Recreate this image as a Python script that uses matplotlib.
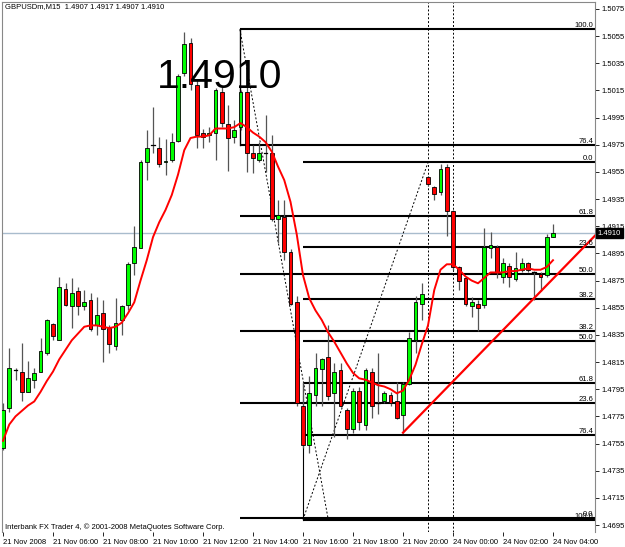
import matplotlib
matplotlib.use("Agg")
import matplotlib.pyplot as plt
from matplotlib.patches import Rectangle
import matplotlib.transforms as mtransforms

# ---------------- data ----------------
header_text = "GBPUSDm,M15  1.4907 1.4917 1.4907 1.4910"
footer_text = "Interbank FX Trader 4, \u00a9 2001-2008 MetaQuotes Software Corp."
big_price_text = "1.4910"

opens = [1.4752, 1.4781, 1.4809, 1.4808, 1.4793, 1.4802, 1.4808, 1.4822, 1.4843, 1.4831,
         1.4869, 1.4856, 1.4867, 1.4856, 1.4861, 1.4842, 1.4851, 1.4840, 1.4827, 1.4846,
         1.4857, 1.4888, 1.4899, 1.4962, 1.4975, 1.4973, 1.4962, 1.4964, 1.4978, 1.5028,
         1.5050, 1.5019, 1.4984, 1.4982, 1.4984, 1.5014, 1.4990, 1.4981, 1.4988, 1.5014,
         1.4969, 1.4964, 1.4969, 1.4969, 1.4920, 1.4922, 1.4896, 1.4859, 1.4783, 1.4754,
         1.4791, 1.4810, 1.4819, 1.4792, 1.4809, 1.4780, 1.4766, 1.4794, 1.4769, 1.4808,
         1.4785, 1.4786, 1.4791, 1.4786, 1.4776, 1.4799, 1.4831, 1.4858, 1.4951, 1.4944,
         1.4940, 1.4959, 1.4926, 1.4885, 1.4877, 1.4856, 1.4858, 1.4857, 1.4899, 1.4900,
         1.4878, 1.4886, 1.4876, 1.4883, 1.4888, 1.4881, 1.4880, 1.4879, 1.4907]
highs = [1.4785, 1.4825, 1.4811, 1.4829, 1.4816, 1.4811, 1.4833, 1.4847, 1.4844, 1.4878,
         1.4873, 1.4877, 1.4870, 1.4868, 1.4866, 1.4863, 1.4861, 1.4842, 1.4862, 1.4857,
         1.4889, 1.4915, 1.4964, 1.4986, 1.5003, 1.4981, 1.4979, 1.4984, 1.5027, 1.5058,
         1.5054, 1.5023, 1.4987, 1.4988, 1.5017, 1.5018, 1.5004, 1.4993, 1.5015, 1.5018,
         1.4975, 1.4977, 1.4997, 1.4982, 1.4934, 1.4934, 1.4898, 1.4864, 1.4800, 1.4805,
         1.4822, 1.4818, 1.4842, 1.4814, 1.4814, 1.4781, 1.4796, 1.4797, 1.4811, 1.4811,
         1.4822, 1.4794, 1.4793, 1.4800, 1.4800, 1.4837, 1.4864, 1.4873, 1.4952, 1.4945,
         1.4961, 1.4961, 1.4927, 1.4886, 1.4878, 1.4863, 1.4861, 1.4914, 1.4911, 1.4901,
         1.4892, 1.4888, 1.4896, 1.4892, 1.4889, 1.4882, 1.4881, 1.4909, 1.4917]
lows = [1.4750, 1.4778, 1.4802, 1.4786, 1.4793, 1.4796, 1.4808, 1.4820, 1.4831, 1.4831,
        1.4856, 1.4840, 1.4850, 1.4853, 1.4838, 1.4835, 1.4815, 1.4822, 1.4824, 1.4835,
        1.4853, 1.4879, 1.4899, 1.4949, 1.4969, 1.4959, 1.4953, 1.4962, 1.4977, 1.5026,
        1.5015, 1.4973, 1.4973, 1.4977, 1.4964, 1.4988, 1.4956, 1.4976, 1.4986, 1.4955,
        1.4954, 1.4962, 1.4955, 1.4919, 1.4903, 1.4890, 1.4857, 1.4783, 1.4752, 1.4748,
        1.4783, 1.4783, 1.4787, 1.4760, 1.4782, 1.4758, 1.4763, 1.4765, 1.4765, 1.4774,
        1.4777, 1.4785, 1.4783, 1.4773, 1.4763, 1.4798, 1.4822, 1.4846, 1.4945, 1.4934,
        1.4938, 1.4908, 1.4883, 1.4868, 1.4856, 1.4848, 1.4838, 1.4855, 1.4892, 1.4877,
        1.4873, 1.4870, 1.4875, 1.4881, 1.4881, 1.4861, 1.4867, 1.4878, 1.4907]
closes = [1.4780, 1.4811, 1.4809, 1.4793, 1.4803, 1.4807, 1.4823, 1.4846, 1.4834, 1.4870,
          1.4857, 1.4866, 1.4856, 1.4859, 1.4839, 1.4850, 1.4839, 1.4828, 1.4844, 1.4856,
          1.4887, 1.4900, 1.4962, 1.4973, 1.4975, 1.4961, 1.4963, 1.4977, 1.5026, 1.5049,
          1.5020, 1.4982, 1.4981, 1.4984, 1.5015, 1.4991, 1.4980, 1.4986, 1.5014, 1.4969,
          1.4965, 1.4969, 1.4969, 1.4920, 1.4923, 1.4896, 1.4858, 1.4785, 1.4754, 1.4792,
          1.4811, 1.4817, 1.4790, 1.4808, 1.4783, 1.4766, 1.4794, 1.4771, 1.4809, 1.4783,
          1.4785, 1.4792, 1.4785, 1.4774, 1.4799, 1.4833, 1.4859, 1.4865, 1.4946, 1.4939,
          1.4957, 1.4926, 1.4885, 1.4875, 1.4858, 1.4859, 1.4855, 1.4900, 1.4901, 1.4881,
          1.4888, 1.4878, 1.4884, 1.4888, 1.4883, 1.4881, 1.4878, 1.4907, 1.4910]

ma_values = [1.4757, 1.4769, 1.4775, 1.4779, 1.4783, 1.4786, 1.4793, 1.4801, 1.4808, 1.4817,
             1.4824, 1.4831, 1.4836, 1.4841, 1.4842, 1.4842, 1.4841, 1.4840, 1.4841, 1.4844,
             1.4851, 1.4859, 1.4875, 1.4890, 1.4907, 1.4918, 1.4927, 1.4938, 1.4953, 1.4971,
             1.4980, 1.4981, 1.4981, 1.4982, 1.4987, 1.4987, 1.4987, 1.4988, 1.4991, 1.4988,
             1.4984, 1.4981, 1.4977, 1.4970, 1.4959, 1.4949, 1.4933, 1.4909, 1.4879, 1.4862,
             1.4853, 1.4846, 1.4837, 1.4830, 1.4822, 1.4814, 1.4807, 1.4803, 1.4802, 1.4800,
             1.4798, 1.4797, 1.4795, 1.4792, 1.4794, 1.4802, 1.4813, 1.4828, 1.4842, 1.4868,
             1.4883, 1.4887, 1.4887, 1.4883, 1.4878, 1.4875, 1.4873, 1.4877, 1.4881, 1.4881,
             1.4881, 1.4882, 1.4882, 1.4883, 1.4884, 1.4883, 1.4883, 1.4885, 1.4890]

x_tick_bars = [0, 8, 16, 24, 32, 40, 48, 56, 64, 72, 80, 88]
x_tick_labels = ["21 Nov 2008", "21 Nov 06:00", "21 Nov 08:00", "21 Nov 10:00",
                 "21 Nov 12:00", "21 Nov 14:00", "21 Nov 16:00", "21 Nov 18:00",
                 "21 Nov 20:00", "24 Nov 00:00", "24 Nov 02:00", "24 Nov 04:00"]
y_tick_values = [1.5075, 1.5055, 1.5035, 1.5015, 1.4995, 1.4975, 1.4955, 1.4935, 1.4915,
                 1.4895, 1.4875, 1.4855, 1.4835, 1.4815, 1.4795, 1.4775, 1.4755, 1.4735,
                 1.4715, 1.4695]
y_tick_labels = ["1.5075", "1.5055", "1.5035", "1.5015", "1.4995", "1.4975", "1.4955",
                 "1.4935", "1.4915", "1.4895", "1.4875", "1.4855", "1.4835", "1.4815",
                 "1.4795", "1.4775", "1.4755", "1.4735", "1.4715", "1.4695"]

fib_levels = [0.0, 23.6, 38.2, 50.0, 61.8, 76.4, 100.0]
fib_level_labels = ["0.0", "23.6", "38.2", "50.0", "61.8", "76.4", "100.0"]
# fib A: drawn from the high (100) down to the low (0)
fibA_bars = [37.9, 52.0]
fibA_high = 1.5060
fibA_low = 1.4700
# fib B: drawn from the low (100) up to the high (0)
fibB_bars = [48.0, 68.0]
fibB_low = 1.4699
fibB_high = 1.4962

trend_bars = [64.0, 94.7]
trend_prices = [1.4763, 1.4908]

vline_bars = [68, 72]
current_price = 1.4910

# ---------------- figure ----------------
W, H = 625, 547
fig = plt.figure(figsize=(W / 100, H / 100), dpi=100)
fig.patch.set_facecolor("white")
left_px, right_px, top_px, bot_px = 2, 595, 2, 532
ax = fig.add_axes([left_px / W, (H - bot_px) / H, (right_px - left_px) / W, (bot_px - top_px) / H])
ax.set_facecolor("white")

def py(y):  # pixel row -> price (axis limits only)
    return 1.5075 - (y - 9) * 0.00007364

ax.set_ylim(py(bot_px), py(top_px))
ax.set_xlim((left_px - 3) / 6.25, (right_px - 3) / 6.25)

font = "Liberation Sans"
fs = 5.5

# fib lines
xmax = ax.get_xlim()[1]
trans = mtransforms.blended_transform_factory(ax.transAxes, ax.transData)
for lev, lab in zip(fib_levels, fib_level_labels):
    pa = fibA_low + (fibA_high - fibA_low) * lev / 100.0
    ax.plot([min(fibA_bars), xmax], [pa, pa], color="black", lw=1.5, zorder=2, solid_capstyle="butt")
    pb = fibB_high - (fibB_high - fibB_low) * lev / 100.0
    ax.plot([min(fibB_bars), xmax], [pb, pb], color="black", lw=1.5, zorder=2, solid_capstyle="butt")
    ax.text(0.997, pa, lab, transform=trans, ha="right", va="bottom", fontsize=fs,
            family=font, color="black", zorder=6)
    ax.text(0.997, pb, lab, transform=trans, ha="right", va="bottom", fontsize=fs,
            family=font, color="black", zorder=6)

# fib trendlines (dotted)
ax.plot(fibA_bars, [fibA_high, fibA_low], color="black", lw=0.7, ls=(0, (2, 2)), zorder=2)
ax.plot(fibB_bars, [fibB_low, fibB_high], color="black", lw=0.7, ls=(0, (2, 2)), zorder=2)
# vertical edges of the fib objects
ax.plot([fibA_bars[0], fibA_bars[0]], [fibA_high, fibA_low + (fibA_high - fibA_low) * 0.764],
        color="black", lw=1.0, zorder=2)
ax.plot([fibB_bars[0], fibB_bars[0]], [fibB_low, fibB_high - (fibB_high - fibB_low) * 0.618],
        color="black", lw=0.8, zorder=2)

# vertical dotted separators
for b in vline_bars:
    ax.axvline(b, color="black", lw=0.7, ls=(0, (2, 2)), zorder=1)

# current price line
ax.axhline(current_price, color="#a9bccd", lw=1.0, zorder=1)

# candles
body_w = 0.62
for i, (o, h, l, c) in enumerate(zip(opens, highs, lows, closes)):
    ax.plot([i, i], [l, h], color="#555555", lw=0.9, zorder=3, solid_capstyle="butt")
    if abs(c - o) < 1e-9:
        ax.plot([i - body_w / 2, i + body_w / 2], [o, o], color="black", lw=0.9, zorder=4)
    else:
        fc = "#00ff00" if c > o else "#ff0000"
        ax.add_patch(Rectangle((i - body_w / 2, min(o, c)), body_w, abs(c - o),
                               facecolor=fc, edgecolor="black", lw=0.6, zorder=4))

# moving average
ax.plot(range(len(ma_values)), ma_values, color="#ff0000", lw=1.4, zorder=5)

# trend line
ax.plot(trend_bars, trend_prices, color="#ff0000", lw=1.6, zorder=5, clip_on=True)

# axes styling
for s in ["left", "top", "right"]:
    ax.spines[s].set_color("#888888")
    ax.spines[s].set_linewidth(0.8)
ax.spines["bottom"].set_visible(False)

ax.yaxis.tick_right()
ax.set_yticks(y_tick_values)
ax.set_yticklabels(y_tick_labels, family=font, fontsize=fs)
ax.tick_params(axis="y", direction="out", length=3, width=0.6, pad=2, colors="black")
ax.set_xticks(x_tick_bars)
ax.set_xticklabels(x_tick_labels, family=font, fontsize=fs, ha="left")
ax.tick_params(axis="x", direction="out", length=3, width=0.6, pad=2, colors="black")

# current price label box
ax.text(1.005, current_price, "1.4910", transform=trans, ha="left", va="center",
        fontsize=fs, family=font, color="white", zorder=10, clip_on=False,
        bbox=dict(boxstyle="square,pad=0.2", fc="black", ec="black"))

# header and footer
fig.text(5 / W, 1 - 7 / H, header_text, ha="left", va="center", fontsize=fs, family=font, color="black")
fig.text(5 / W, 1 - 527 / H, footer_text, ha="left", va="center", fontsize=fs, family=font, color="black")

# big price text
fig.text(220 / W, 1 - 88 / H, big_price_text, ha="center", va="baseline", fontsize=29.5,
         family=font, color="black", zorder=20)

fig.savefig("out.png", dpi=100, facecolor="white")
